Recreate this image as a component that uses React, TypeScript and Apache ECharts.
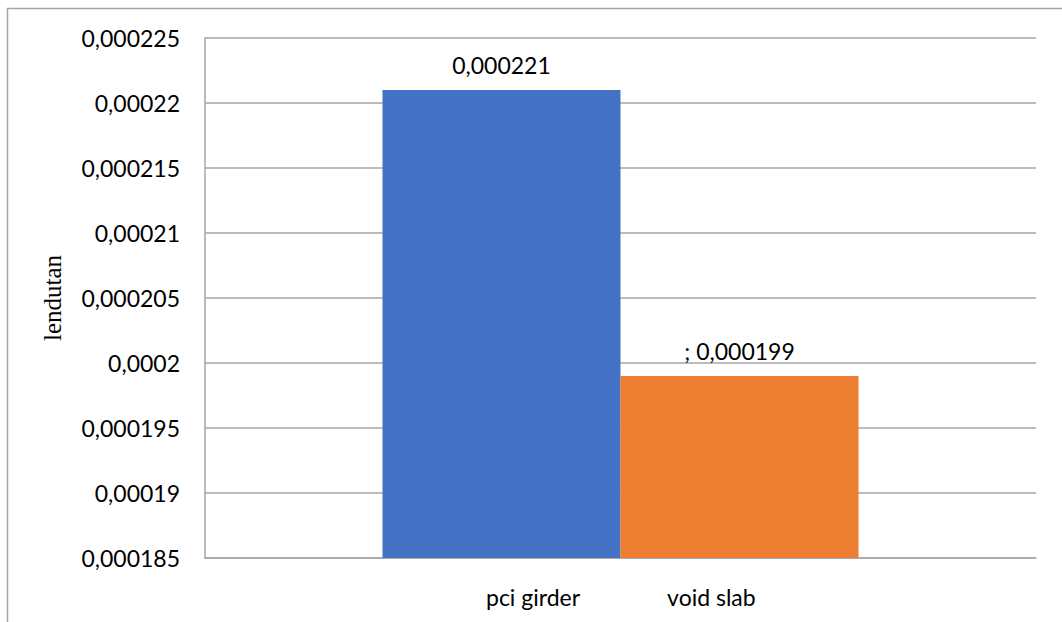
import React, { useEffect, useRef } from "react";
import * as echarts from "echarts";

const categories = ["lendutan"];
const seriesNames = ["pci girder", "void slab"];
const seriesValues = [[0.000221], [0.000199]];
const labelPrefixes = ["", "; "];
const seriesColors = ["#4472C4", "#ED7D31"];
const yMin = 0.000185;
const yMax = 0.000225;
const yStep = 0.000005;
const yAxisTitle = "lendutan";

const fmt = (v: number) => String(parseFloat(v.toFixed(7))).replace(".", ",");

const FONT = "Lato";

export default function App() {
  const ref = useRef<HTMLDivElement>(null);
  useEffect(() => {
    if (!ref.current) return;
    const chart = echarts.init(ref.current, null, { renderer: "svg" });
    chart.setOption({
      animation: false,
      backgroundColor: "#ffffff",
      grid: { left: 205, top: 38, right: 26, bottom: 64 },
      legend: {
        data: seriesNames,
        left: 476,
        top: 580,
        icon: "none",
        itemWidth: 0,
        itemHeight: 10,
        itemGap: 82,
        textStyle: { fontFamily: FONT, fontSize: 23, color: "#000" },
        selectedMode: false,
      },
      graphic: [
        {
          type: "rect",
          shape: { x: 7.5, y: 8.5, width: 1100, height: 700 },
          style: { fill: "none", stroke: "#a6a6a6", lineWidth: 1.5 },
          silent: true,
        },
      ],
      xAxis: {
        type: "category",
        data: categories,
        axisLine: { show: true, lineStyle: { color: "#a6a6a6", width: 1.5 } },
        axisTick: { show: false },
        axisLabel: { show: false },
      },
      yAxis: {
        type: "value",
        min: yMin,
        max: yMax,
        interval: yStep,
        name: yAxisTitle,
        nameLocation: "middle",
        nameGap: 140,
        nameTextStyle: { fontFamily: "Liberation Serif", fontSize: 25, color: "#000" },
        axisLine: { show: true, lineStyle: { color: "#a6a6a6", width: 1.5 } },
        axisTick: { show: false },
        axisLabel: {
          formatter: (v: number) => fmt(v),
          fontFamily: FONT,
          fontSize: 23,
          color: "#000",
          margin: 25,
        },
        splitLine: { show: true, lineStyle: { color: "#a6a6a6", width: 1.5 } },
      },
      series: seriesNames.map((name, i) => ({
        name,
        type: "bar",
        data: seriesValues[i],
        barWidth: 238,
        barGap: "0%",
        itemStyle: { color: seriesColors[i] },
        label: {
          show: true,
          position: "top",
          distance: 14,
          fontFamily: FONT,
          fontSize: 23,
          color: "#000",
          formatter: (p: any) => labelPrefixes[i] + fmt(p.value),
        },
      })),
    });
    return () => chart.dispose();
  }, []);
  return (
    <div
      ref={ref}
      style={{ position: "fixed", left: 0, top: 0, width: 1062, height: 622 }}
    />
  );
}
